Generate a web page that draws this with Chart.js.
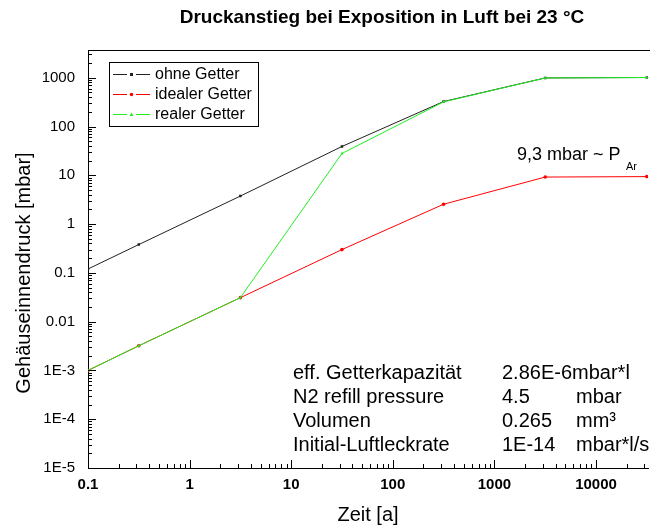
<!DOCTYPE html>
<html>
<head>
<meta charset="utf-8">
<script src="https://cdn.jsdelivr.net/npm/chart.js@4.4.1/dist/chart.umd.min.js"></script>
<style>
  body { margin: 0; background: #fff; }
  #box { width: 650px; height: 529px; }
</style>
</head>
<body>
<div id="box"><canvas id="druck" width="650" height="529"></canvas></div>
<script>
const zeit = [0.1, 0.316, 3.16, 31.6, 316, 3162, 31623];
const ohneGetter = [0.12, 0.38, 3.75, 39, 325, 990, 1010];
const idealerGetter = [0.001, 0.0032, 0.031, 0.30, 2.55, 9.2, 9.4];
const realerGetter = [0.001, 0.0032, 0.031, 28, 320, 990, 1010];

const reihenNamen = ['ohne Getter', 'idealer Getter', 'realer Getter'];
const reihenFarben = ['#222222', '#ff0000', '#22ee22'];
const reihenPunkte = ['rect', 'circle', 'triangle'];

const xLabels = ['0.1', '1', '10', '100', '1000', '10000'];
const yLabels = ['1E-5', '1E-4', '1E-3', '0.01', '0.1', '1', '10', '100', '1000'];

const paramNamen = ['eff. Getterkapazität', 'N2 refill pressure', 'Volumen', 'Initial-Luftleckrate'];
const paramWerte = ['2.86E-6mbar*l', '4.5', '0.265', '1E-14'];
const paramEinheiten = ['', 'mbar', 'mm³', 'mbar*l/s'];

const schrift = "Arial, 'Liberation Sans', sans-serif";

function punkte(werte) {
    return zeit.map(function (x, i) { return { x: x, y: werte[i] }; });
}

function istDekade(v) {
    var e = Math.log10(v);
    return Math.abs(e - Math.round(e)) < 1e-6;
}

function dekadenLabel(v, liste) {
    if (!istDekade(v)) return '';
    var e = Math.round(Math.log10(v));
    for (var i = 0; i < liste.length; i++) {
        var t = liste[i];
        var w = t.indexOf('E') >= 0 ? Number(t.replace('E', 'e')) : Number(t);
        if (Math.round(Math.log10(w)) == e) return t;
    }
    return '';
}

// nach innen zeigende Striche, Rahmen, Legende und Texte
const extras = {
    id: 'extras',
    afterDraw(chart) {
        const ctx = chart.ctx;
        const a = chart.chartArea;
        const sx = chart.scales.x;
        const sy = chart.scales.y;
        ctx.save();
        ctx.strokeStyle = '#000';
        ctx.lineWidth = 1;
        ctx.beginPath();
        sx.ticks.forEach(function (t) {
            var m = t.value / Math.pow(10, Math.floor(Math.log10(t.value) + 1e-9));
            if (Math.abs(m - Math.round(m)) > 1e-6) return;
            var px = Math.round(sx.getPixelForValue(t.value)) + 0.5;
            if (px > a.right - 1) return;
            var len = istDekade(t.value) ? 8 : 4;
            ctx.moveTo(px, a.bottom);
            ctx.lineTo(px, a.bottom - len);
        });
        sy.ticks.forEach(function (t) {
            var m = t.value / Math.pow(10, Math.floor(Math.log10(t.value) + 1e-9));
            if (Math.abs(m - Math.round(m)) > 1e-6) return;
            var py = Math.round(sy.getPixelForValue(t.value)) + 0.5;
            if (py < a.top + 1) return;
            var len = istDekade(t.value) ? 8 : 4;
            ctx.moveTo(a.left, py);
            ctx.lineTo(a.left + len, py);
        });
        // oberer Rahmen bis zum Bildrand
        ctx.moveTo(a.left, a.top + 0.5);
        ctx.lineTo(chart.width, a.top + 0.5);
        ctx.stroke();

        // Titel
        ctx.fillStyle = '#000';
        ctx.textBaseline = 'middle';
        ctx.textAlign = 'center';
        ctx.font = 'bold 19px ' + schrift;
        ctx.fillText('Druckanstieg bei Exposition in Luft bei 23 °C', 382, 18);

        // Achsentitel
        ctx.font = '20px ' + schrift;
        ctx.fillText('Zeit [a]', 368, 515);
        ctx.save();
        ctx.translate(24, 273);
        ctx.rotate(-Math.PI / 2);
        ctx.fillText('Gehäuseinnendruck [mbar]', 0, 0);
        ctx.restore();

        // Legende
        ctx.strokeRect(109.5, 62.5, 149, 64);
        ctx.textAlign = 'left';
        ctx.font = '16px ' + schrift;
        chart.data.datasets.forEach(function (ds, i) {
            var y = 74 + i * 20;
            ctx.strokeStyle = ds.borderColor;
            ctx.beginPath();
            ctx.moveTo(113, y + 0.5); ctx.lineTo(127, y + 0.5);
            ctx.moveTo(136, y + 0.5); ctx.lineTo(150, y + 0.5);
            ctx.stroke();
            ctx.fillStyle = ds.borderColor;
            if (ds.pointStyle == 'rect') ctx.fillRect(130, y - 1, 3, 3);
            else if (ds.pointStyle == 'circle') { ctx.beginPath(); ctx.arc(131.5, y + 0.5, 1.8, 0, Math.PI * 2); ctx.fill(); }
            else { ctx.beginPath(); ctx.moveTo(131.5, y - 1.5); ctx.lineTo(133.5, y + 2); ctx.lineTo(129.5, y + 2); ctx.closePath(); ctx.fill(); }
            ctx.fillStyle = '#000';
            ctx.fillText(ds.label, 155, y + 1);
        });

        // Argon-Hinweis
        ctx.font = '18px ' + schrift;
        ctx.fillText('9,3 mbar ~ P', 517, 155);
        ctx.font = '11px ' + schrift;
        ctx.fillText('Ar', 626, 167);

        // Parametertabelle
        ctx.font = '20px ' + schrift;
        for (var r = 0; r < paramNamen.length; r++) {
            var yy = 373 + r * 24;
            ctx.fillText(paramNamen[r], 293, yy);
            ctx.fillText(paramWerte[r], 502, yy);
            ctx.fillText(paramEinheiten[r], 576, yy);
        }
        ctx.restore();
    }
};

const daten = [ohneGetter, idealerGetter, realerGetter];
const zeichenFolge = [3, 2, 1]; // gruen oben

new Chart(document.getElementById('druck').getContext('2d'), {
    type: 'scatter',
    data: {
        datasets: daten.map(function (werte, i) {
            return {
                label: reihenNamen[i],
                data: punkte(werte),
                showLine: true,
                order: zeichenFolge[i],
                borderColor: reihenFarben[i],
                backgroundColor: reihenFarben[i],
                borderWidth: 1,
                pointStyle: reihenPunkte[i],
                pointRadius: 1.8,
                pointHoverRadius: 0,
                pointBorderWidth: 0,
                tension: 0
            };
        })
    },
    options: {
        responsive: false,
        animation: false,
        layout: { padding: { top: 50, right: 0, left: 0, bottom: 0 } },
        plugins: {
            legend: { display: false },
            tooltip: { enabled: false }
        },
        scales: {
            x: {
                type: 'logarithmic',
                min: 0.1,
                max: 32650,
                grid: { display: false, drawTicks: false },
                border: { display: true, color: '#000', width: 1 },
                ticks: {
                    autoSkip: false,
                    maxRotation: 0,
                    padding: 8,
                    color: '#000',
                    font: { family: schrift, size: 15, weight: 'bold' },
                    callback: function (v) { return dekadenLabel(v, xLabels); }
                },
                afterFit: function (s) {
                    s.height = 61;
                    s.paddingLeft = 0;
                    s.paddingRight = 0;
                }
            },
            y: {
                type: 'logarithmic',
                min: 1e-5,
                max: 3700,
                grid: { display: false, drawTicks: false },
                border: { display: true, color: '#000', width: 1 },
                ticks: {
                    autoSkip: false,
                    padding: 13,
                    color: '#000',
                    font: { family: schrift, size: 15 },
                    callback: function (v) { return dekadenLabel(v, yLabels); }
                },
                afterFit: function (s) {
                    s.width = 88;
                    s.paddingTop = 0;
                }
            }
        }
    },
    plugins: [extras]
});
</script>
</body>
</html>
